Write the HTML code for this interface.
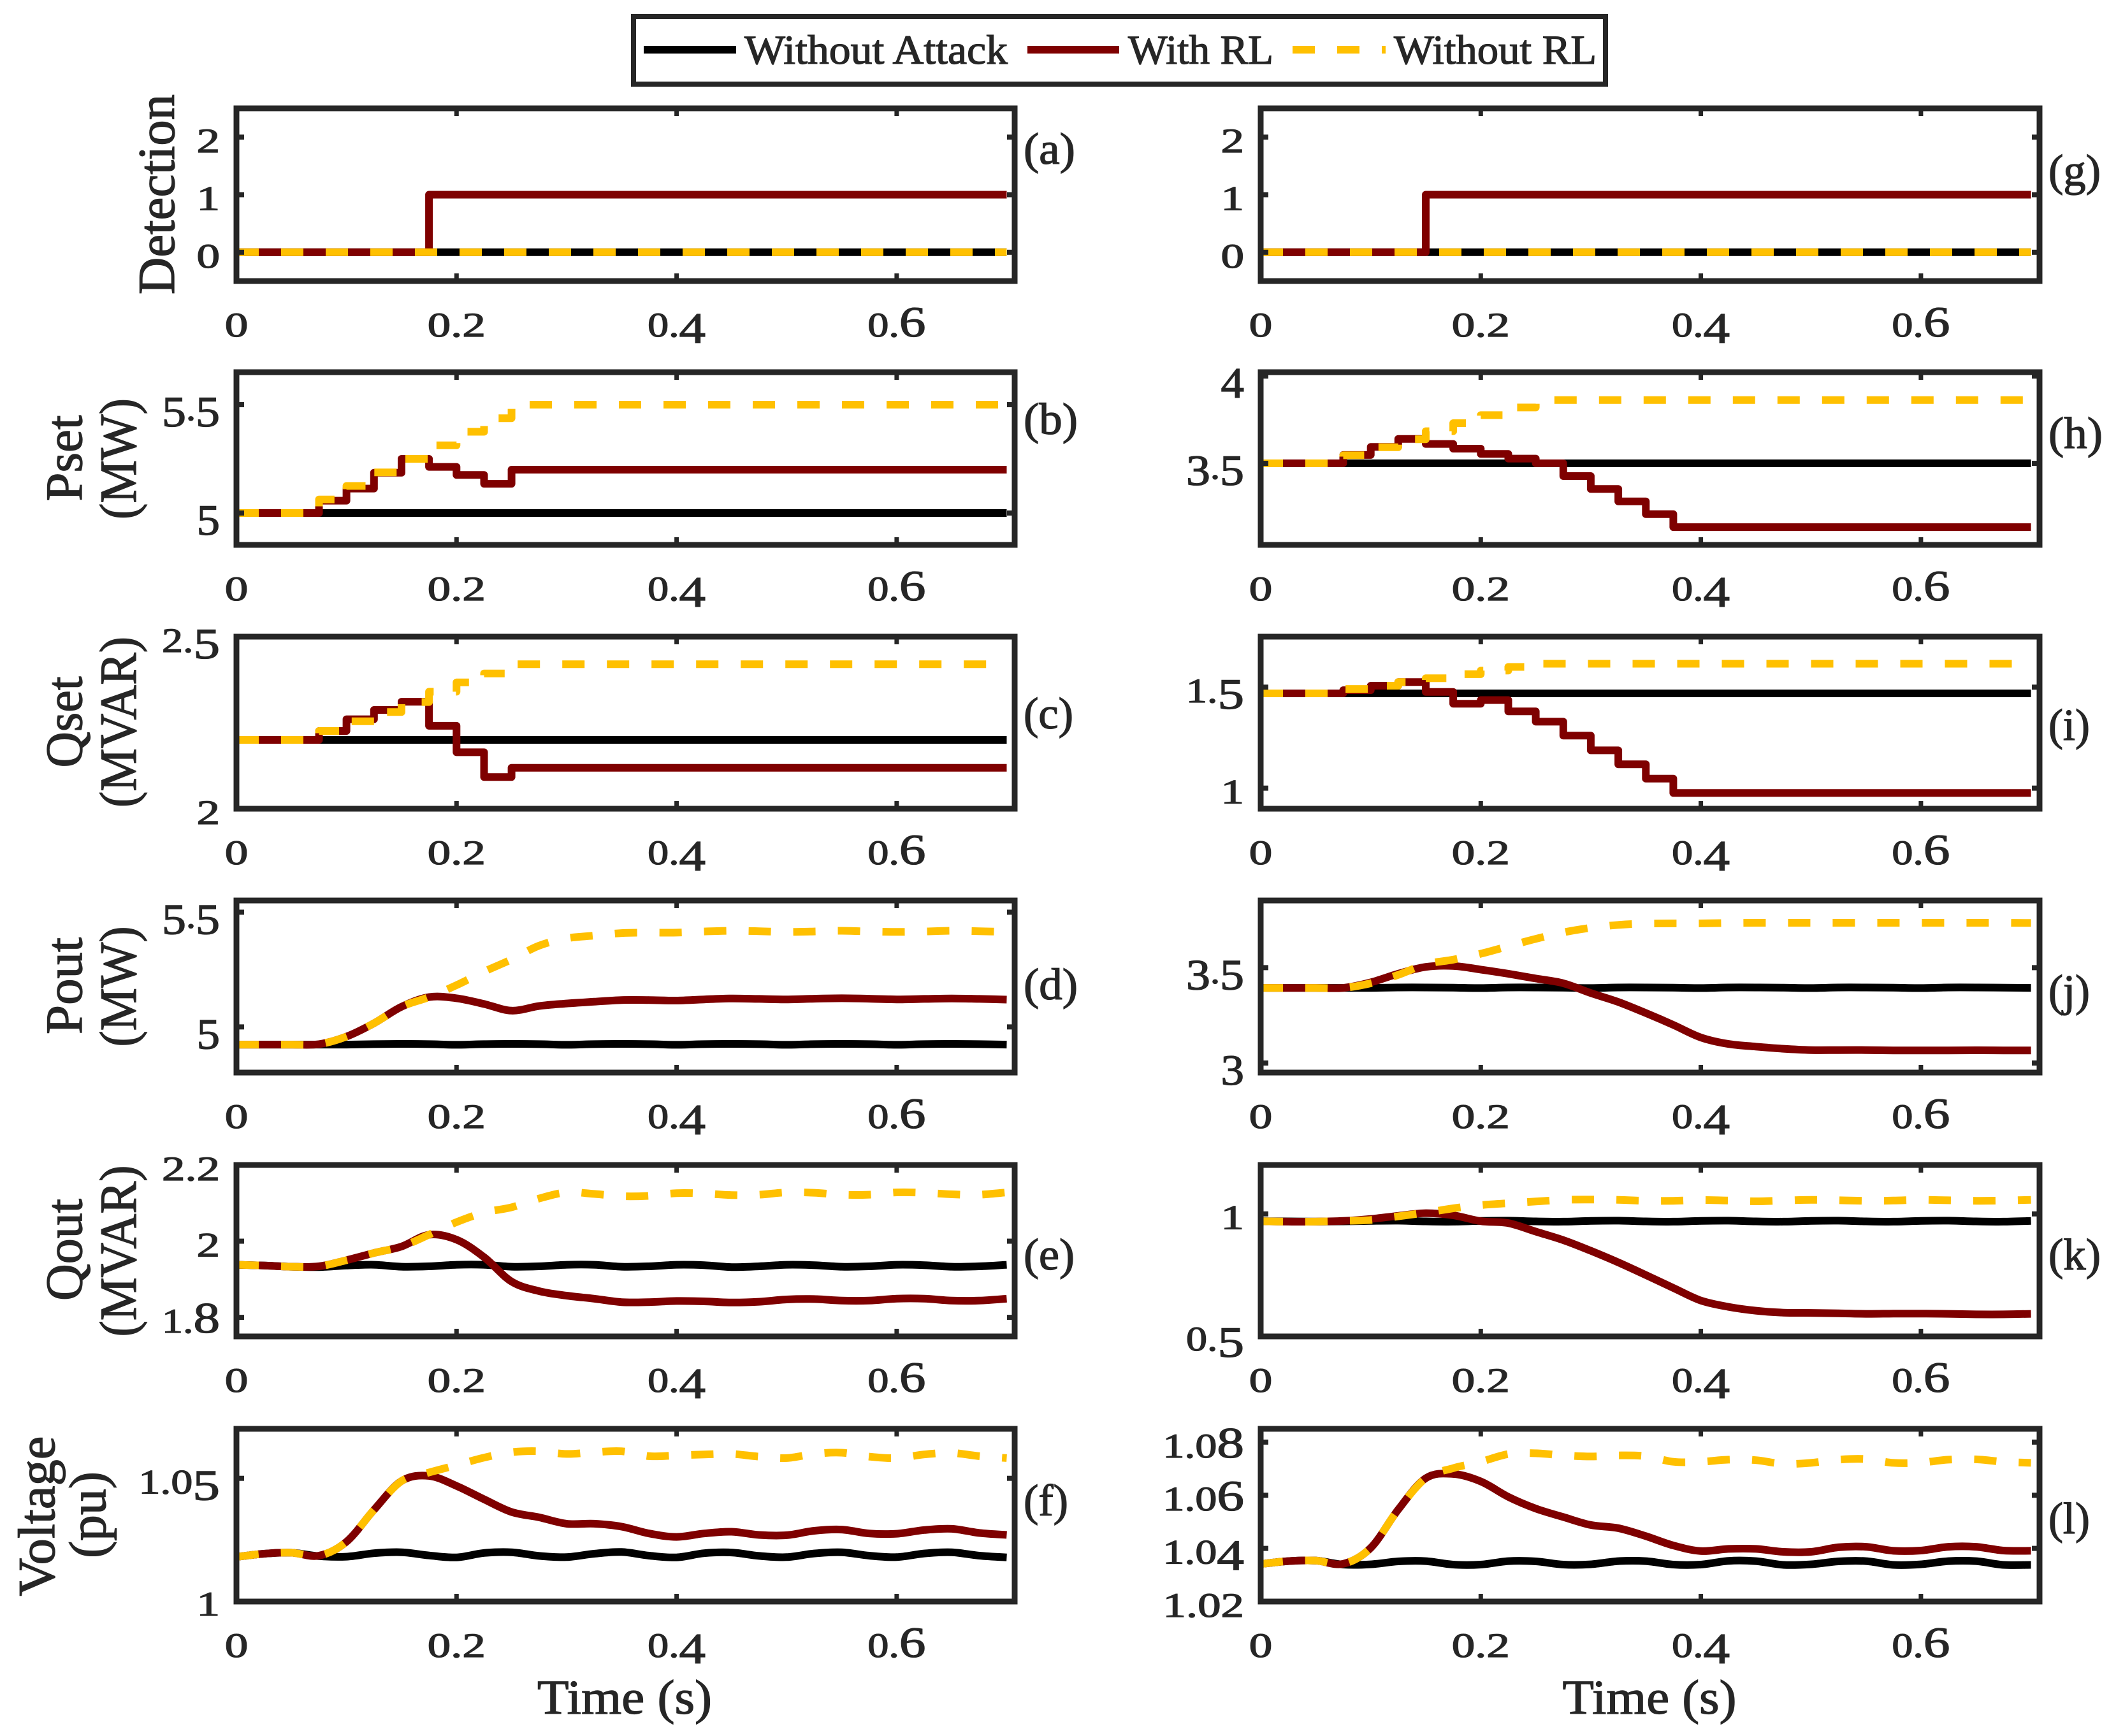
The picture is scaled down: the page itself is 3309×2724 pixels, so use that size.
<!DOCTYPE html>
<html lang="en">
<head>
<meta charset="utf-8">
<title>Attack detection time series</title>
<style>
html,body{margin:0;padding:0;background:#fff;}
svg{display:block;}
text{font-family:"Liberation Serif",serif;fill:#262626;stroke:#262626;stroke-width:1.3px;}
.yl{font-size:82px;text-anchor:middle;}
.pl{font-size:70px;}
.lg{font-size:65px;}
</style>
</head>
<body>
<svg id="chart" xmlns="http://www.w3.org/2000/svg" width="3309" height="2724" viewBox="0 0 3309 2724">
<rect x="0" y="0" width="3309" height="2724" fill="#fff"/>
<g id="plots"></g>

<g>
<rect x="994" y="26" width="1525" height="106" fill="#fff" stroke="#262626" stroke-width="8"/>
<line x1="1010" x2="1155" y1="78" y2="78" stroke="#000" stroke-width="12"/>
<text class="lg" x="1168" y="100" textLength="413" lengthAdjust="spacingAndGlyphs">Without Attack</text>
<line x1="1612" x2="1756" y1="78" y2="78" stroke="#7f0000" stroke-width="12"/>
<text class="lg" x="1770" y="100" textLength="228" lengthAdjust="spacingAndGlyphs">With RL</text>
<line x1="2028" x2="2174" y1="78" y2="78" stroke="#ffc000" stroke-width="12" stroke-dasharray="35 35"/>
<text class="lg" x="2187" y="100" textLength="318" lengthAdjust="spacingAndGlyphs">Without RL</text>
</g>

<g>
<text class="yl" transform="translate(273,305) rotate(-90)" textLength="314" lengthAdjust="spacingAndGlyphs">Detection</text>
<text class="yl" transform="translate(128,719) rotate(-90)" textLength="135" lengthAdjust="spacingAndGlyphs">Pset</text>
<text class="yl" transform="translate(213,720) rotate(-90)" textLength="190" lengthAdjust="spacingAndGlyphs">(MW)</text>
<text class="yl" transform="translate(128,1133) rotate(-90)" textLength="143" lengthAdjust="spacingAndGlyphs">Qset</text>
<text class="yl" transform="translate(213,1133) rotate(-90)" textLength="268" lengthAdjust="spacingAndGlyphs">(MVAR)</text>
<text class="yl" transform="translate(128,1547) rotate(-90)" textLength="152" lengthAdjust="spacingAndGlyphs">Pout</text>
<text class="yl" transform="translate(213,1548) rotate(-90)" textLength="189" lengthAdjust="spacingAndGlyphs">(MW)</text>
<text class="yl" transform="translate(128,1961) rotate(-90)" textLength="160" lengthAdjust="spacingAndGlyphs">Qout</text>
<text class="yl" transform="translate(213,1963) rotate(-90)" textLength="269" lengthAdjust="spacingAndGlyphs">(MVAR)</text>
<text class="yl" transform="translate(85,2379) rotate(-90)" textLength="251" lengthAdjust="spacingAndGlyphs">Voltage</text>
<text class="yl" transform="translate(165,2377) rotate(-90)" textLength="136" lengthAdjust="spacingAndGlyphs">(pu)</text>
</g>

<g>
<text class="pl" x="1606" y="257" textLength="81" lengthAdjust="spacingAndGlyphs">(a)</text>
<text class="pl" x="1606" y="681" textLength="85" lengthAdjust="spacingAndGlyphs">(b)</text>
<text class="pl" x="1606" y="1143" textLength="78" lengthAdjust="spacingAndGlyphs">(c)</text>
<text class="pl" x="1606" y="1568" textLength="85" lengthAdjust="spacingAndGlyphs">(d)</text>
<text class="pl" x="1606" y="1992" textLength="80" lengthAdjust="spacingAndGlyphs">(e)</text>
<text class="pl" x="1606" y="2378" textLength="70" lengthAdjust="spacingAndGlyphs">(f)</text>
<text class="pl" x="3214" y="291" textLength="82" lengthAdjust="spacingAndGlyphs">(g)</text>
<text class="pl" x="3214" y="703" textLength="85" lengthAdjust="spacingAndGlyphs">(h)</text>
<text class="pl" x="3214" y="1161" textLength="65" lengthAdjust="spacingAndGlyphs">(i)</text>
<text class="pl" x="3214" y="1578" textLength="65" lengthAdjust="spacingAndGlyphs">(j)</text>
<text class="pl" x="3214" y="1992" textLength="82" lengthAdjust="spacingAndGlyphs">(k)</text>
<text class="pl" x="3214" y="2406" textLength="65" lengthAdjust="spacingAndGlyphs">(l)</text>
</g>

<text x="980" y="2689" font-size="76" text-anchor="middle" textLength="274" lengthAdjust="spacingAndGlyphs">Time (s)</text>
<text x="2588" y="2689" font-size="76" text-anchor="middle" textLength="273" lengthAdjust="spacingAndGlyphs">Time (s)</text>
</svg>

<script>
// ---------- data ----------
const xTicks = [0, 0.2, 0.4, 0.6];
const xTickLabels = ["0", "0.2", "0.4", "0.6"];
const timeEnd = 0.7;

const timeGrid = [0,0.025,0.05,0.075,0.1,0.125,0.15,0.175,0.2,0.225,0.25,0.275,0.3,0.325,0.35,0.375,0.4,0.425,0.45,0.475,0.5,0.525,0.55,0.575,0.6,0.625,0.65,0.675,0.7];

// Panel a / g : detection
const detectTimesA = [0, 0.175];
const detectTimesG = [0, 0.15];
const detectRed = [0, 1];
const detectFlatTimes = [0];
const detectFlat = [0];

// Panel b : Pset left
const stepTimesShort = [0,0.075,0.1,0.125,0.15,0.175,0.2,0.225,0.25];
const psetBlack = [5];
const psetRed = [5,5.057,5.113,5.186,5.25,5.213,5.176,5.135,5.2];
const psetYellow = [5,5.0625,5.125,5.1875,5.25,5.3125,5.375,5.4375,5.5];

// Panel c : Qset left
const qsetBlack = [2.2];
const qsetRed = [2.2,2.226,2.26,2.287,2.311,2.241,2.164,2.092,2.119];
const qsetYellow = [2.2,2.226,2.254,2.281,2.31,2.34,2.367,2.393,2.42];

// Panel h : Pset right
const stepTimesLong = [0,0.075,0.1,0.125,0.15,0.175,0.2,0.225,0.25,0.275,0.3,0.325,0.35,0.375];
const psetRBlack = [3.5];
const psetRRed = [3.5,3.548,3.594,3.64,3.611,3.584,3.554,3.527,3.5,3.427,3.353,3.282,3.209,3.135];
const psetRYellow = [3.5,3.546,3.592,3.638,3.684,3.73,3.776,3.82,3.862];

// Panel i : Qset right
const qsetRBlack = [1.469];
const qsetRRed = [1.469,1.485,1.507,1.525,1.476,1.418,1.436,1.38,1.329,1.26,1.187,1.118,1.047,0.976];
const qsetRYellow = [1.469,1.491,1.507,1.525,1.544,1.564,1.582,1.6,1.616];

// Panel d : Pout left
const poutBlack = [4.923,4.923,4.923,4.923,4.923,4.925,4.926,4.925,4.922,4.925,4.926,4.925,4.922,4.925,4.926,4.925,4.922,4.925,4.926,4.925,4.922,4.925,4.926,4.925,4.922,4.925,4.926,4.925,4.923];
const poutRed = [4.923,4.923,4.923,4.925,4.958,5.016,5.088,5.13,5.125,5.1,5.071,5.091,5.102,5.11,5.117,5.117,5.115,5.12,5.124,5.122,5.12,5.123,5.125,5.123,5.12,5.122,5.124,5.122,5.119];
const poutYellow = [4.923,4.923,4.923,4.925,4.958,5.016,5.088,5.13,5.182,5.241,5.294,5.354,5.386,5.398,5.409,5.411,5.411,5.416,5.419,5.417,5.414,5.416,5.419,5.416,5.414,5.416,5.419,5.417,5.414];

// Panel e : Qout left
const qoutBlack = [1.938,1.936,1.933,1.932,1.936,1.938,1.933,1.934,1.938,1.938,1.933,1.934,1.938,1.938,1.933,1.934,1.938,1.937,1.932,1.934,1.938,1.937,1.933,1.934,1.938,1.937,1.933,1.934,1.938];
const qoutRed = [1.938,1.936,1.933,1.934,1.95,1.969,1.986,2.017,2.004,1.958,1.894,1.869,1.857,1.849,1.84,1.84,1.843,1.842,1.839,1.841,1.847,1.848,1.844,1.844,1.849,1.849,1.844,1.844,1.849];
const qoutYellow = [1.938,1.936,1.933,1.934,1.95,1.969,1.986,2.017,2.05,2.075,2.089,2.112,2.128,2.124,2.118,2.119,2.126,2.125,2.121,2.122,2.128,2.127,2.122,2.122,2.128,2.127,2.123,2.122,2.128];

// Panel f : Voltage left
const voltBlack = [1.0178,1.0191,1.0195,1.0181,1.0179,1.0193,1.0197,1.0184,1.0176,1.0194,1.0197,1.0182,1.0177,1.0191,1.0198,1.0183,1.0176,1.0193,1.0196,1.0182,1.0177,1.0192,1.0197,1.0183,1.0177,1.0192,1.0197,1.0183,1.0176];
const voltRed = [1.0178,1.0191,1.0195,1.0183,1.024,1.0371,1.0489,1.051,1.0469,1.0414,1.0362,1.034,1.0314,1.0314,1.0302,1.0274,1.026,1.0274,1.0281,1.0268,1.0267,1.0285,1.029,1.0274,1.0273,1.0288,1.0293,1.0276,1.0268];
const voltYellow = [1.0178,1.0191,1.0195,1.0183,1.024,1.0371,1.0489,1.0524,1.0554,1.0585,1.0607,1.0611,1.06,1.0607,1.0611,1.0591,1.0594,1.0598,1.06,1.0589,1.0583,1.06,1.0605,1.0589,1.0583,1.0598,1.0604,1.0591,1.0583];

// Panel j : Pout right
const poutRBlack = [3.394,3.394,3.394,3.394,3.394,3.396,3.396,3.395,3.393,3.396,3.396,3.395,3.393,3.396,3.396,3.395,3.393,3.396,3.396,3.395,3.393,3.396,3.396,3.395,3.393,3.396,3.396,3.395,3.394];
const poutRRed = [3.394,3.394,3.394,3.394,3.423,3.468,3.504,3.509,3.49,3.468,3.443,3.418,3.367,3.32,3.262,3.2,3.134,3.1,3.086,3.075,3.068,3.068,3.068,3.066,3.066,3.066,3.067,3.066,3.066];
const poutRYellow = [3.394,3.394,3.394,3.394,3.418,3.462,3.518,3.542,3.573,3.612,3.651,3.685,3.709,3.724,3.731,3.732,3.732,3.734,3.735,3.735,3.735,3.735,3.735,3.735,3.735,3.735,3.735,3.735,3.734];

// Panel k : Qout right
const qoutRBlack = [0.97,0.969,0.968,0.969,0.971,0.972,0.969,0.968,0.971,0.972,0.969,0.968,0.971,0.972,0.969,0.968,0.971,0.972,0.969,0.968,0.971,0.972,0.969,0.968,0.971,0.972,0.969,0.968,0.971];
const qoutRRed = [0.97,0.968,0.968,0.971,0.979,0.992,1.003,0.994,0.97,0.962,0.927,0.892,0.848,0.8,0.748,0.695,0.643,0.617,0.601,0.593,0.592,0.59,0.588,0.589,0.589,0.588,0.586,0.586,0.588];
const qoutRYellow = [0.97,0.968,0.968,0.971,0.975,0.99,1.005,1.023,1.036,1.044,1.051,1.058,1.059,1.058,1.054,1.054,1.057,1.055,1.052,1.055,1.058,1.056,1.054,1.055,1.058,1.056,1.054,1.055,1.058];

// Panel l : Voltage right
const voltRBlack = [1.0341,1.0352,1.0354,1.0339,1.034,1.0351,1.0352,1.0339,1.0339,1.0352,1.0351,1.0339,1.034,1.0352,1.0352,1.0339,1.0339,1.0353,1.0352,1.0338,1.034,1.0351,1.0352,1.0338,1.034,1.0352,1.0352,1.0338,1.0338];
const voltRRed = [1.0341,1.0352,1.0354,1.0342,1.0402,1.0546,1.0664,1.068,1.0652,1.0594,1.055,1.0518,1.0488,1.0476,1.0446,1.0411,1.039,1.0398,1.0398,1.0387,1.0387,1.0404,1.0406,1.0391,1.0392,1.0406,1.0406,1.0392,1.0391];
const voltRYellow = [1.0341,1.0352,1.0354,1.0342,1.0402,1.0546,1.0664,1.0702,1.0726,1.0755,1.0758,1.075,1.0746,1.075,1.0747,1.0726,1.0726,1.0734,1.0732,1.0718,1.0722,1.0734,1.0736,1.0722,1.0723,1.0734,1.0735,1.0726,1.0722];

// Y tick values and their printed labels
const ticksA = [0, 1, 2];           const tickLabelsA = ["0", "1", "2"];
const ticksB = [5, 5.5];            const tickLabelsB = ["5", "5.5"];
const ticksC = [2, 2.5];            const tickLabelsC = ["2", "2.5"];
const ticksD = [5, 5.5];            const tickLabelsD = ["5", "5.5"];
const ticksE = [1.8, 2, 2.2];       const tickLabelsE = ["1.8", "2", "2.2"];
const ticksF = [1, 1.05];           const tickLabelsF = ["1", "1.05"];
const ticksG = [0, 1, 2];           const tickLabelsG = ["0", "1", "2"];
const ticksH = [3.5, 4];            const tickLabelsH = ["3.5", "4"];
const ticksI = [1, 1.5];            const tickLabelsI = ["1", "1.5"];
const ticksJ = [3, 3.5];            const tickLabelsJ = ["3", "3.5"];
const ticksK = [0.5, 1];            const tickLabelsK = ["0.5", "1"];
const ticksL = [1.02, 1.04, 1.06, 1.08]; const tickLabelsL = ["1.02", "1.04", "1.06", "1.08"];

// ---------- layout ----------
const NS = "http://www.w3.org/2000/svg";
const root = document.getElementById("plots");
const LEFT = {x0: 371, x1: 1592};
const RIGHT = {x0: 1978, x1: 3200};
const PX_PER_UNIT_X = 1726.5;
const ROWS = [{t:170,b:441},{t:584,b:855},{t:999,b:1269},{t:1413,b:1683},{t:1828,b:2097},{t:2242,b:2513}];

const panels = [
 {id:"a",col:LEFT,row:0,ylim:[-0.5,2.5],ticks:ticksA,labels:tickLabelsA,kind:"step",
  black:[detectFlatTimes,detectFlat],red:[detectTimesA,detectRed],yellow:[detectFlatTimes,detectFlat]},
 {id:"b",col:LEFT,row:1,ylim:[4.853,5.65],ticks:ticksB,labels:tickLabelsB,kind:"step",
  black:[detectFlatTimes,psetBlack],red:[stepTimesShort,psetRed],yellow:[stepTimesShort,psetYellow]},
 {id:"c",col:LEFT,row:2,ylim:[2,2.5],ticks:ticksC,labels:tickLabelsC,kind:"step",
  black:[detectFlatTimes,qsetBlack],red:[stepTimesShort,qsetRed],yellow:[stepTimesShort,qsetYellow]},
 {id:"d",col:LEFT,row:3,ylim:[4.801,5.551],ticks:ticksD,labels:tickLabelsD,kind:"smooth",
  black:[timeGrid,poutBlack],red:[timeGrid,poutRed],yellow:[timeGrid,poutYellow]},
 {id:"e",col:LEFT,row:4,ylim:[1.75,2.2],ticks:ticksE,labels:tickLabelsE,kind:"smooth",
  black:[timeGrid,qoutBlack],red:[timeGrid,qoutRed],yellow:[timeGrid,qoutYellow]},
 {id:"f",col:LEFT,row:5,ylim:[0.9995,1.0703],ticks:ticksF,labels:tickLabelsF,kind:"smooth",
  black:[timeGrid,voltBlack],red:[timeGrid,voltRed],yellow:[timeGrid,voltYellow]},
 {id:"g",col:RIGHT,row:0,ylim:[-0.5,2.5],ticks:ticksG,labels:tickLabelsG,kind:"step",
  black:[detectFlatTimes,detectFlat],red:[detectTimesG,detectRed],yellow:[detectFlatTimes,detectFlat]},
 {id:"h",col:RIGHT,row:1,ylim:[3.033,4.022],ticks:ticksH,labels:tickLabelsH,kind:"step",
  black:[detectFlatTimes,psetRBlack],red:[stepTimesLong,psetRRed],yellow:[stepTimesShort,psetRYellow]},
 {id:"i",col:RIGHT,row:2,ylim:[0.898,1.75],ticks:ticksI,labels:tickLabelsI,kind:"step",
  black:[detectFlatTimes,qsetRBlack],red:[stepTimesLong,qsetRRed],yellow:[stepTimesShort,qsetRYellow]},
 {id:"j",col:RIGHT,row:3,ylim:[2.95,3.852],ticks:ticksJ,labels:tickLabelsJ,kind:"smooth",
  black:[timeGrid,poutRBlack],red:[timeGrid,poutRRed],yellow:[timeGrid,poutRYellow]},
 {id:"k",col:RIGHT,row:4,ylim:[0.495,1.2016],ticks:ticksK,labels:tickLabelsK,kind:"smooth",
  black:[timeGrid,qoutRBlack],red:[timeGrid,qoutRRed],yellow:[timeGrid,qoutRYellow]},
 {id:"l",col:RIGHT,row:5,ylim:[1.02,1.085],ticks:ticksL,labels:tickLabelsL,kind:"smooth",
  black:[timeGrid,voltRBlack],red:[timeGrid,voltRRed],yellow:[timeGrid,voltRYellow]}
];

function make(tag, attrs, parent){
  const el = document.createElementNS(NS, tag);
  for (const k in attrs) el.setAttribute(k, attrs[k]);
  parent.appendChild(el);
  return el;
}

function stepPath(ts, vs, sx, sy){
  let d = "M" + sx(ts[0]).toFixed(1) + " " + sy(vs[0]).toFixed(1);
  for (let i = 1; i < ts.length; i++){
    d += "H" + sx(ts[i]).toFixed(1) + "V" + sy(vs[i]).toFixed(1);
  }
  return d + "H" + sx(timeEnd).toFixed(1);
}

function smoothPath(ts, vs, sx, sy){
  const p = ts.map((t, i) => [sx(t), sy(vs[i])]);
  let d = "M" + p[0][0].toFixed(1) + " " + p[0][1].toFixed(1);
  for (let i = 0; i < p.length - 1; i++){
    const a = p[Math.max(0, i - 1)], b = p[i], c = p[i + 1], e = p[Math.min(p.length - 1, i + 2)];
    const c1x = b[0] + (c[0] - a[0]) / 6, c1y = b[1] + (c[1] - a[1]) / 6;
    const c2x = c[0] - (e[0] - b[0]) / 6, c2y = c[1] - (e[1] - b[1]) / 6;
    d += "C" + c1x.toFixed(1) + " " + c1y.toFixed(1) + " " + c2x.toFixed(1) + " " + c2y.toFixed(1) + " " + c[0].toFixed(1) + " " + c[1].toFixed(1);
  }
  return d;
}

function labelWidth(s){
  let w = 0;
  for (const ch of s) w += ch === "." ? 18 : 36.5;
  return w;
}

// Old-style figures: 3,4,5,7,9 drop below the baseline; 6,8 rise above x-height.
function fillOldStyle(textEl, s){
  for (const ch of s){
    const span = document.createElementNS(NS, "tspan");
    if ("34579".includes(ch)){
      span.setAttribute("font-size", "68");
      span.setAttribute("dy", "10");
      span.textContent = ch;
      textEl.appendChild(span);
      const back = document.createElementNS(NS, "tspan");
      back.setAttribute("dy", "-10");
      back.setAttribute("font-size", "54");
      back.textContent = "\u200b";
      textEl.appendChild(back);
    } else if ("68".includes(ch)){
      span.setAttribute("font-size", "68");
      span.textContent = ch;
      textEl.appendChild(span);
    } else {
      span.setAttribute("font-size", "54");
      span.textContent = ch;
      textEl.appendChild(span);
    }
  }
}

function tickLabel(parent, x, y, s, anchor){
  const t = make("text", {x: x, y: y, "text-anchor": anchor, "font-size": 54,
    textLength: labelWidth(s), lengthAdjust: "spacingAndGlyphs"}, parent);
  fillOldStyle(t, s);
  return t;
}

panels.forEach(function(pn){
  const row = ROWS[pn.row];
  const x0 = pn.col.x0, x1 = pn.col.x1, top = row.t, bot = row.b;
  const sx = t => x0 + t * PX_PER_UNIT_X;
  const sy = v => bot - (v - pn.ylim[0]) / (pn.ylim[1] - pn.ylim[0]) * (bot - top);
  const g = make("g", {}, root);
  
  

  const build = pn.kind === "step" ? stepPath : smoothPath;
  const styles = [
    ["black", "#000000", null],
    ["red", "#7f0000", null],
    ["yellow", "#ffc000", "35 35"]
  ];
  styles.forEach(function(st){
    const series = pn[st[0]];
    const path = make("path", {
      d: build(series[0], series[1], sx, sy),
      fill: "none", stroke: st[1], "stroke-width": 12,
      "stroke-linejoin": "round"
    }, g);
    if (st[2]) path.setAttribute("stroke-dasharray", st[2]);
    
    
  });

  const frame = make("rect", {x: x0, y: top, width: x1 - x0, height: bot - top,
    fill: "none", stroke: "#262626", "stroke-width": 9}, g);
  
  

  xTicks.forEach(function(tv, i){
    const x = sx(tv);
    if (i > 0){
      const a = make("line", {x1: x, x2: x, y1: top, y2: top + 12, stroke: "#262626", "stroke-width": 7}, g);
      
      
      const b = make("line", {x1: x, x2: x, y1: bot, y2: bot - 12, stroke: "#262626", "stroke-width": 7}, g);
      
      
    }
    const lbl = tickLabel(g, x, bot + 87, xTickLabels[i], "middle");
    
    
  });

  pn.ticks.forEach(function(v, i){
    const y = sy(v);
    if (y > top + 2 && y < bot - 2){
      const a = make("line", {x1: x0, x2: x0 + 12, y1: y, y2: y, stroke: "#262626", "stroke-width": 8}, g);
      
      
      const b = make("line", {x1: x1, x2: x1 - 12, y1: y, y2: y, stroke: "#262626", "stroke-width": 8}, g);
      
      
    }
    const lbl = tickLabel(g, x0 - 26, y + 24, pn.labels[i], "end");
    
    
  });
});
</script>
</body>
</html>
